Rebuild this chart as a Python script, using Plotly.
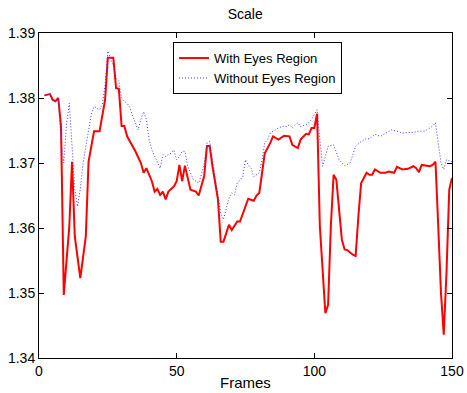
import plotly.graph_objects as go

red_frames = [2, 4, 5, 6, 7, 8, 9, 10, 11, 12, 13, 15, 17, 18, 20, 22, 24, 25, 27, 28, 29, 30, 31, 32,
              34, 35, 37, 38, 39, 40, 41, 42, 43, 44, 45, 46, 47, 49, 50, 51, 52, 53, 54, 55, 57, 58,
              60, 61, 62, 63, 65, 66, 67, 69, 70, 72, 73, 75, 76, 78, 79, 80, 81, 82, 84, 85, 87, 89,
              91, 92, 94, 95, 97, 98, 99, 100, 101, 102, 104, 105, 106, 107, 108, 109, 110, 111, 112,
              114, 115, 116, 117, 119, 120, 121, 122, 124, 126, 127, 129, 130, 132, 134, 136, 137, 138,
              139, 140, 142, 143, 144, 145, 146, 147, 148, 149, 150]
red_values = [1.3804, 1.3806, 1.3797, 1.3795, 1.3800, 1.3756, 1.3497, 1.3556, 1.3602, 1.3702, 1.3587,
              1.3523, 1.3587, 1.3702, 1.3749, 1.3749, 1.3797, 1.3862, 1.3862, 1.3815, 1.3814, 1.3757,
              1.3757, 1.3741, 1.3726, 1.3718, 1.3700, 1.3685, 1.3692, 1.3682, 1.3672, 1.3656, 1.3660,
              1.3651, 1.3656, 1.3644, 1.3656, 1.3664, 1.3672, 1.3697, 1.3672, 1.3696, 1.3677, 1.3659,
              1.3656, 1.3650, 1.3680, 1.3726, 1.3726, 1.3695, 1.3644, 1.3579, 1.3579, 1.3605, 1.3597,
              1.3610, 1.3610, 1.3633, 1.3645, 1.3642, 1.3650, 1.3654, 1.3685, 1.3715, 1.3731, 1.3741,
              1.3736, 1.3742, 1.3741, 1.3728, 1.3723, 1.3736, 1.3745, 1.3744, 1.3754, 1.3754, 1.3776,
              1.3603, 1.3469, 1.3482, 1.3603, 1.3682, 1.3674, 1.3623, 1.3582, 1.3567, 1.3566, 1.3559,
              1.3557, 1.3618, 1.3669, 1.3685, 1.3682, 1.3682, 1.3690, 1.3685, 1.3685, 1.3687, 1.3685,
              1.3694, 1.3690, 1.3691, 1.3695, 1.3692, 1.3686, 1.3697, 1.3696, 1.3695, 1.3697, 1.3702,
              1.3603, 1.3500, 1.3436, 1.3531, 1.3659, 1.3677]

blue_frames = [2, 4, 5, 6, 7, 8, 9, 10, 11, 12, 13, 14, 15, 16, 17, 18, 19, 20, 21, 22, 23, 24, 25, 26,
               27, 28, 29, 30, 31, 32, 33, 34, 35, 36, 37, 38, 39, 40, 41, 42, 43, 44, 45, 46, 47, 48,
               49, 50, 51, 52, 53, 54, 55, 56, 57, 58, 59, 60, 61, 62, 63, 64, 65, 66, 67, 68, 69, 70,
               71, 72, 74, 75, 76, 77, 78, 80, 81, 82, 83, 84, 86, 87, 89, 90, 91, 92, 94, 95, 97, 98,
               99, 101, 102, 103, 104, 105, 107, 108, 109, 111, 113, 114, 115, 117, 119, 120, 122, 124,
               126, 128, 130, 132, 134, 136, 138, 140, 142, 143, 144, 145, 146, 147, 148, 150]
blue_values = [1.3804, 1.3806, 1.3797, 1.3795, 1.3800, 1.3735, 1.3700, 1.3760, 1.3792, 1.3730, 1.3660,
               1.3633, 1.3660, 1.3700, 1.3725, 1.3745, 1.3775, 1.3787, 1.3785, 1.3782, 1.3790, 1.3820,
               1.3872, 1.3859, 1.3849, 1.3830, 1.3826, 1.3800, 1.3795, 1.3792, 1.3785, 1.3772, 1.3762,
               1.3751, 1.3767, 1.3779, 1.3767, 1.3736, 1.3720, 1.3710, 1.3700, 1.3692, 1.3713, 1.3710,
               1.3713, 1.3715, 1.3720, 1.3705, 1.3710, 1.3718, 1.3718, 1.3695, 1.3685, 1.3675, 1.3672,
               1.3669, 1.3682, 1.3700, 1.3731, 1.3733, 1.3705, 1.3675, 1.3645, 1.3623, 1.3613, 1.3631,
               1.3646, 1.3654, 1.3651, 1.3669, 1.3679, 1.3705, 1.3697, 1.3692, 1.3679, 1.3685, 1.3705,
               1.3731, 1.3736, 1.3746, 1.3751, 1.3754, 1.3757, 1.3756, 1.3759, 1.3754, 1.3762, 1.3756,
               1.3759, 1.3762, 1.3767, 1.3782, 1.3736, 1.3695, 1.3710, 1.3726, 1.3728, 1.3715, 1.3705,
               1.3696, 1.3700, 1.3713, 1.3726, 1.3733, 1.3738, 1.3737, 1.3744, 1.3741, 1.3746, 1.3751,
               1.3749, 1.3746, 1.3747, 1.3747, 1.3749, 1.3749, 1.3754, 1.3757, 1.3762, 1.3730, 1.3700,
               1.3690, 1.3705, 1.3702]

x_ticks = [0, 50, 100, 150]
y_ticks = [1.34, 1.35, 1.36, 1.37, 1.38, 1.39]

font_family = "Liberation Sans, Arial, Helvetica, sans-serif"

fig = go.Figure()
fig.add_trace(go.Scatter(x=red_frames, y=red_values, mode="lines", name="With Eyes Region",
                         line=dict(color="#ff0000", width=2)))
fig.add_trace(go.Scatter(x=blue_frames, y=blue_values, mode="lines", name="Without Eyes Region",
                         line=dict(color="#3a3aff", width=1, dash="1px,2px")))

axis_common = dict(showline=True, linecolor="black", linewidth=1, mirror="ticks",
                   ticks="inside", ticklen=5, tickcolor="black", showgrid=False, zeroline=False,
                   automargin=False,
                   tickfont=dict(size=14, color="black", family=font_family))

fig.update_layout(
    width=467, height=393,
    margin=dict(l=39, r=15, t=33, b=35),
    paper_bgcolor="white", plot_bgcolor="white",
    font=dict(family=font_family, color="black", size=14),
    title=dict(text="Scale", x=0.525, xanchor="center", y=0.964, yanchor="middle",
               font=dict(size=14, color="black", family=font_family)),
    xaxis=dict(range=[0, 150], tickvals=x_ticks, ticktext=[str(v) for v in x_ticks],
               **axis_common),
    yaxis=dict(range=[1.34, 1.39], tickvals=y_ticks, ticktext=[f"{v:.2f}" for v in y_ticks],
               **axis_common),
    annotations=[dict(text="Frames", x=0.5, xref="paper", y=-0.075, yref="paper",
                      xanchor="center", yanchor="middle", showarrow=False,
                      font=dict(size=15, color="black", family=font_family))],
    legend=dict(x=0.3245, y=0.972, xanchor="left", yanchor="top", bordercolor="black",
                borderwidth=1, bgcolor="white", font=dict(size=13, color="black", family=font_family),
                itemwidth=30, tracegroupgap=0),
    showlegend=True,
)

fig.write_html("out.html")
